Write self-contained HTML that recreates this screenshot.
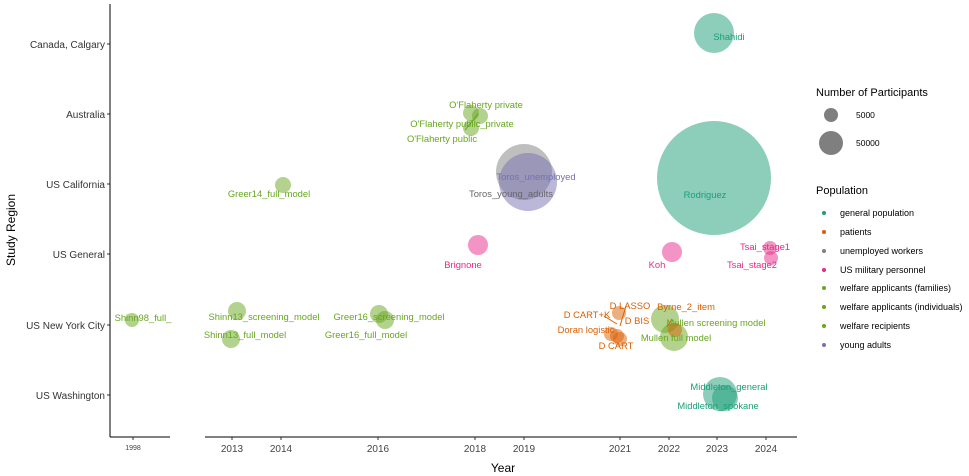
<!DOCTYPE html>
<html><head><meta charset="utf-8"><style>body{margin:0;background:#fff}svg{display:block;font-family:"Liberation Sans",sans-serif}</style></head><body>
<svg width="969" height="476" viewBox="0 0 969 476">
<g fill="#333" font-size="10">
<text x="105" y="48" text-anchor="end">Canada, Calgary</text>
<text x="105" y="118" text-anchor="end">Australia</text>
<text x="105" y="188" text-anchor="end">US California</text>
<text x="105" y="258" text-anchor="end">US General</text>
<text x="105" y="329" text-anchor="end">US New York City</text>
<text x="105" y="399" text-anchor="end">US Washington</text>
</g>
<g stroke="#333" stroke-width="1"><line x1="107" y1="44" x2="110" y2="44"/><line x1="107" y1="114" x2="110" y2="114"/><line x1="107" y1="184" x2="110" y2="184"/><line x1="107" y1="254" x2="110" y2="254"/><line x1="107" y1="325" x2="110" y2="325"/><line x1="107" y1="395" x2="110" y2="395"/></g>
<line x1="110" y1="4" x2="110" y2="437" stroke="#000" stroke-width="1"/>
<line x1="110" y1="437" x2="170" y2="437" stroke="#000"/>
<line x1="205" y1="437" x2="797" y2="437" stroke="#000"/>
<g stroke="#333"><line x1="133" y1="437" x2="133" y2="440"/>
<line x1="232" y1="437" x2="232" y2="440"/><line x1="281" y1="437" x2="281" y2="440"/><line x1="378" y1="437" x2="378" y2="440"/><line x1="475" y1="437" x2="475" y2="440"/><line x1="524" y1="437" x2="524" y2="440"/><line x1="620" y1="437" x2="620" y2="440"/><line x1="669" y1="437" x2="669" y2="440"/><line x1="717" y1="437" x2="717" y2="440"/><line x1="766" y1="437" x2="766" y2="440"/></g>
<g fill="#444" font-size="10" text-anchor="middle">
<text x="133" y="450" font-size="7">1998</text>
<text x="232" y="452">2013</text><text x="281" y="452">2014</text><text x="378" y="452">2016</text><text x="475" y="452">2018</text><text x="524" y="452">2019</text><text x="620" y="452">2021</text><text x="669" y="452">2022</text><text x="717" y="452">2023</text><text x="766" y="452">2024</text>
</g>
<text x="503" y="472" font-size="12" text-anchor="middle">Year</text>
<text x="15" y="230" font-size="12" text-anchor="middle" transform="rotate(-90 15 230)">Study Region</text>

<g fill-opacity="0.5">
<circle cx="714" cy="178" r="57" fill="#1b9e77"/>
<circle cx="714" cy="33" r="20" fill="#1b9e77"/>
<circle cx="720" cy="394" r="17" fill="#1b9e77"/>
<circle cx="725" cy="398" r="13" fill="#1b9e77"/>
<circle cx="524" cy="172" r="28" fill="#7f7f7f"/>
<circle cx="528" cy="182" r="29" fill="#7570b3"/>
<circle cx="478" cy="245" r="10" fill="#e7298a"/>
<circle cx="672" cy="252" r="10" fill="#e7298a"/>
<circle cx="770" cy="248" r="7" fill="#e7298a"/>
<circle cx="771" cy="258" r="7" fill="#e7298a"/>
<circle cx="283" cy="185" r="8" fill="#66a61e"/>
<circle cx="471" cy="113" r="8" fill="#66a61e"/>
<circle cx="480" cy="116" r="8" fill="#66a61e"/>
<circle cx="471" cy="128" r="8" fill="#66a61e"/>
<circle cx="132" cy="320" r="7" fill="#66a61e"/>
<circle cx="237" cy="311" r="9" fill="#66a61e"/>
<circle cx="231" cy="339" r="9" fill="#66a61e"/>
<circle cx="379" cy="314" r="9" fill="#66a61e"/>
<circle cx="385" cy="320" r="9" fill="#66a61e"/>
<circle cx="665" cy="319" r="14" fill="#66a61e"/>
<circle cx="674" cy="337" r="14" fill="#66a61e"/>
<circle cx="675" cy="330" r="7" fill="#d95f02"/>
<circle cx="619" cy="313" r="7" fill="#d95f02"/>
<circle cx="611" cy="334" r="7" fill="#d95f02"/>
<circle cx="617" cy="336" r="7" fill="#d95f02"/>
<circle cx="620" cy="339" r="7" fill="#d95f02"/>
</g>
<g stroke-width="1"><line x1="465" y1="130" x2="478" y2="114" stroke="#66a61e"/><line x1="667" y1="327" x2="672" y2="319" stroke="#d95f02"/><line x1="604" y1="316" x2="617" y2="324" stroke="#d95f02"/><line x1="626" y1="306" x2="620" y2="326" stroke="#d95f02"/></g>
<g font-size="9.4">
<g fill="#1b9e77"><text x="729" y="40" text-anchor="middle">Shahidi</text><text x="705" y="198" text-anchor="middle">Rodriguez</text><text x="729" y="390" text-anchor="middle">Middleton_general</text><text x="718" y="409" text-anchor="middle">Middleton_spokane</text></g>
<g fill="#7570b3"><text x="536" y="180" text-anchor="middle">Toros_unemployed</text></g>
<g fill="#666"><text x="511" y="197" text-anchor="middle">Toros_young_adults</text></g>
<g fill="#e7298a"><text x="463" y="268" text-anchor="middle">Brignone</text><text x="657" y="268" text-anchor="middle">Koh</text><text x="765" y="250" text-anchor="middle">Tsai_stage1</text><text x="752" y="268" text-anchor="middle">Tsai_stage2</text></g>
<g fill="#66a61e"><text x="486" y="108" text-anchor="middle">O'Flaherty private</text><text x="462" y="127" text-anchor="middle">O'Flaherty public_private</text><text x="442" y="142" text-anchor="middle">O'Flaherty public</text>
<text x="269" y="197" text-anchor="middle">Greer14_full_model</text>
<text x="143" y="321" text-anchor="middle">Shinn98_full_</text>
<text x="264" y="320" text-anchor="middle">Shinn13_screening_model</text>
<text x="245" y="338" text-anchor="middle">Shinn13_full_model</text>
<text x="389" y="320" text-anchor="middle">Greer16_screening_model</text>
<text x="366" y="338" text-anchor="middle">Greer16_full_model</text>
<text x="716" y="326" text-anchor="middle">Mullen screening model</text>
<text x="676" y="341" text-anchor="middle">Mullen full model</text></g>
<g fill="#d95f02"><text x="630" y="309" text-anchor="middle">D LASSO</text><text x="587" y="318" text-anchor="middle">D CART+K</text><text x="637" y="324" text-anchor="middle">D BIS</text><text x="586" y="333" text-anchor="middle">Doran logistic</text><text x="616" y="349" text-anchor="middle">D CART</text><text x="686" y="310" text-anchor="middle">Byrne_2_item</text></g>
</g>

<text x="816" y="96" font-size="11" fill="#000">Number of Participants</text>
<circle cx="831" cy="115" r="7" fill="#000" fill-opacity="0.5"/>
<circle cx="831" cy="143" r="12" fill="#000" fill-opacity="0.5"/>
<text x="856" y="118" font-size="8.5">5000</text>
<text x="856" y="146" font-size="8.5">50000</text>
<text x="816" y="194" font-size="11" fill="#000">Population</text>
<g font-size="9" fill="#000">
<circle cx="824" cy="213" r="2" fill="#1b9e77"/><text x="840" y="216">general population</text>
<circle cx="824" cy="232" r="2" fill="#d95f02"/><text x="840" y="235">patients</text>
<circle cx="824" cy="251" r="2" fill="#7f7f7f"/><text x="840" y="254">unemployed workers</text>
<circle cx="824" cy="270" r="2" fill="#e7298a"/><text x="840" y="273">US military personnel</text>
<circle cx="824" cy="288" r="2" fill="#66a61e"/><text x="840" y="291">welfare applicants (families)</text>
<circle cx="824" cy="307" r="2" fill="#66a61e"/><text x="840" y="310">welfare applicants (individuals)</text>
<circle cx="824" cy="326" r="2" fill="#66a61e"/><text x="840" y="329">welfare recipients</text>
<circle cx="824" cy="345" r="2" fill="#7570b3"/><text x="840" y="348">young adults</text>
</g>
</svg>
</body></html>
